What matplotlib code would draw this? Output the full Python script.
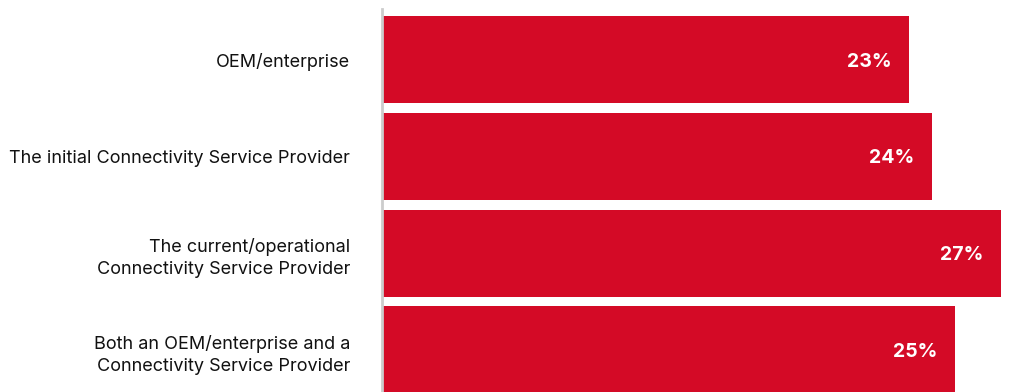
import matplotlib
matplotlib.use('Agg')
from matplotlib import pyplot as plt

plt.rcParams['font.family'] = ['Inter', 'DejaVu Sans']

# who is responsible, share of respondents (%)
categories = ['OEM/enterprise',
              'The initial Connectivity Service Provider',
              'The current/operational\nConnectivity Service Provider',
              'Both an OEM/enterprise and a\nConnectivity Service Provider']
shares = [23, 24, 27, 25]

barColor = '#D40A26'

fig = plt.figure(figsize=(10.13, 3.92), dpi=100)
ax = fig.add_axes([382 / 1013, 0, 631 / 1013, 383 / 392])

ypos = list(range(len(categories)))
ax.barh(ypos, shares, height=0.9, color=barColor)

# value labels sit just inside the end of each bar
for y, v in zip(ypos, shares):
    ax.annotate(f'{v}%', xy=(v, y), xytext=(-13, -1.5), textcoords='offset points',
                ha='right', va='center', color='white', fontsize=14, fontweight='bold')

ax.set_xlim(0, 27 * 631 / 619)
ax.set_ylim(3.433, -0.522)
ax.set_yticks(ypos)
ax.set_yticklabels(categories, fontsize=13, color='#111111', linespacing=1.4)
ax.tick_params(axis='y', length=0, pad=23)
ax.set_xticks([])

for side in ['top', 'right', 'bottom']:
    ax.spines[side].set_visible(False)
ax.spines['left'].set_color('#cccccc')
ax.spines['left'].set_linewidth(2)

plt.savefig('out.png', dpi=100)
